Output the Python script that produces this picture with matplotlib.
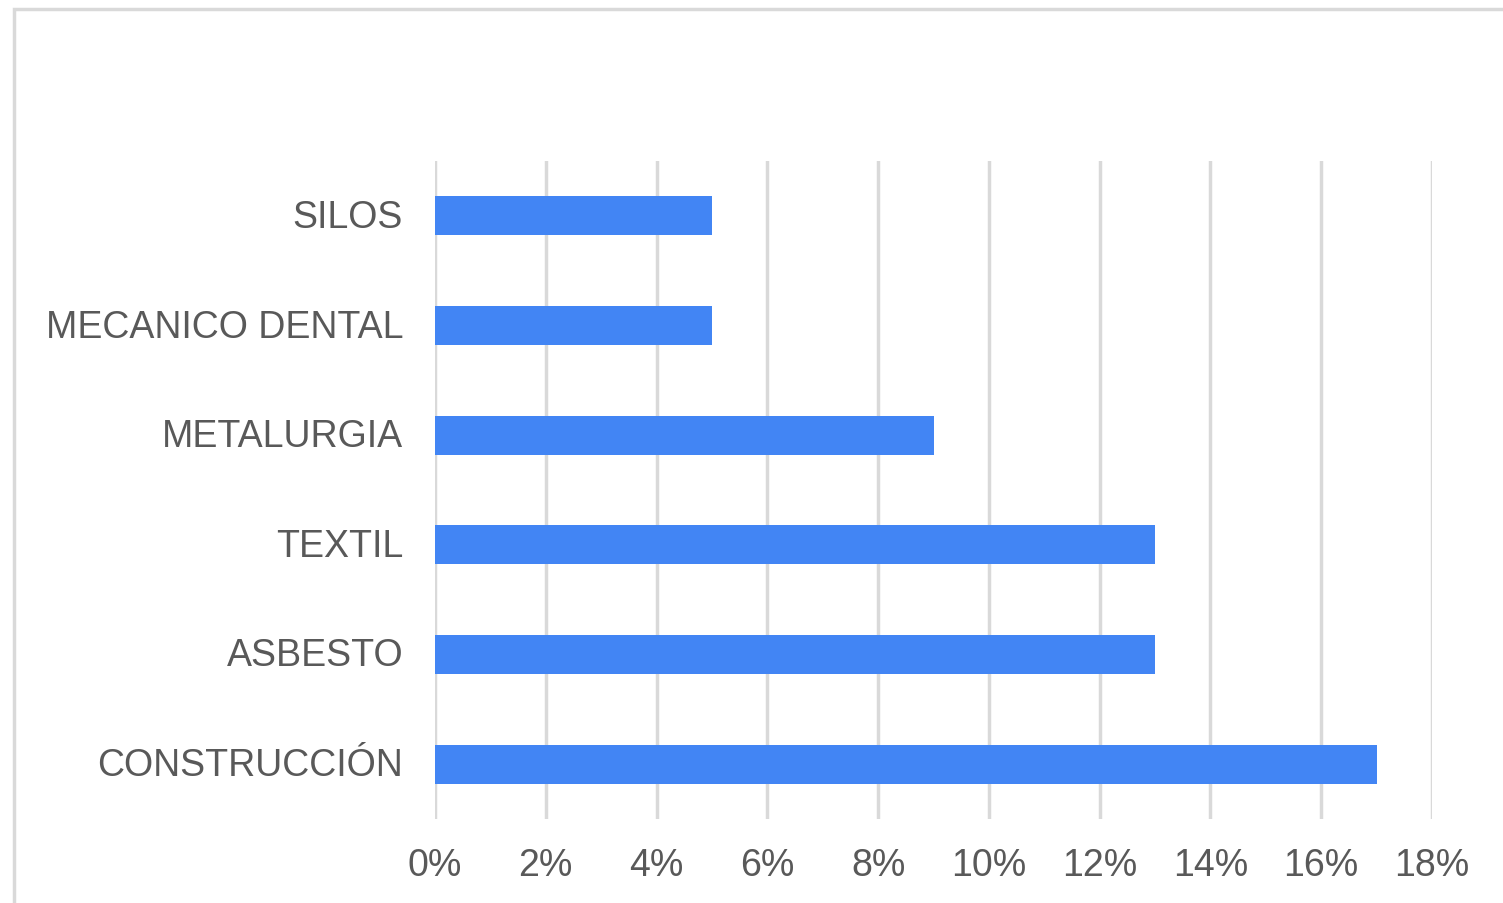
import matplotlib
matplotlib.use("Agg")
import matplotlib.pyplot as plt
import matplotlib.transforms as mtransforms
from matplotlib.patches import Rectangle
from matplotlib.ticker import FuncFormatter

categories = ["CONSTRUCCIÓN", "ASBESTO", "TEXTIL", "METALURGIA", "MECANICO DENTAL", "SILOS"]
values = [17, 13, 13, 9, 5, 5]
xticks = [0, 2, 4, 6, 8, 10, 12, 14, 16, 18]

plt.rcParams["font.family"] = ["Liberation Sans", "DejaVu Sans"]

W, H = 1503, 904
fig = plt.figure(figsize=(W / 100, H / 100), dpi=100)
fig.patch.set_facecolor("white")

# outer frame of the chart area
fig.add_artist(Rectangle((13.5 / W, -0.05), 1.2, 1 - 9.5 / H + 0.05,
                         transform=fig.transFigure, fill=False,
                         edgecolor="#d9d9d9", linewidth=2.5))

ax = fig.add_axes([435 / W, (H - 820) / H, (1432 - 435) / W, (820 - 162) / H])
ax.barh(range(len(categories)), values, height=0.355, color="#4285F4", zorder=3)

ax.set_xlim(0, 18)
ax.set_ylim(-0.5, len(categories) - 0.5)
ax.set_xticks(xticks)
ax.xaxis.set_major_formatter(FuncFormatter(lambda v, p: f"{v:.0f}%"))
ax.set_yticks(range(len(categories)))
ax.set_yticklabels(categories)

ax.grid(axis="x", color="#d9d9d9", linewidth=2.5, zorder=0)
ax.grid(axis="y", visible=False)
for s in ax.spines.values():
    s.set_visible(False)
ax.tick_params(axis="both", length=0, colors="#595959", labelsize=27)
ax.tick_params(axis="y", pad=23)
ax.tick_params(axis="x", pad=20)

# nudge category labels slightly upward
shift = mtransforms.ScaledTranslation(0, 3 / 100, fig.dpi_scale_trans)
for lbl in ax.get_yticklabels():
    lbl.set_transform(lbl.get_transform() + shift)

fig.savefig("out.png", dpi=100, facecolor="white")
